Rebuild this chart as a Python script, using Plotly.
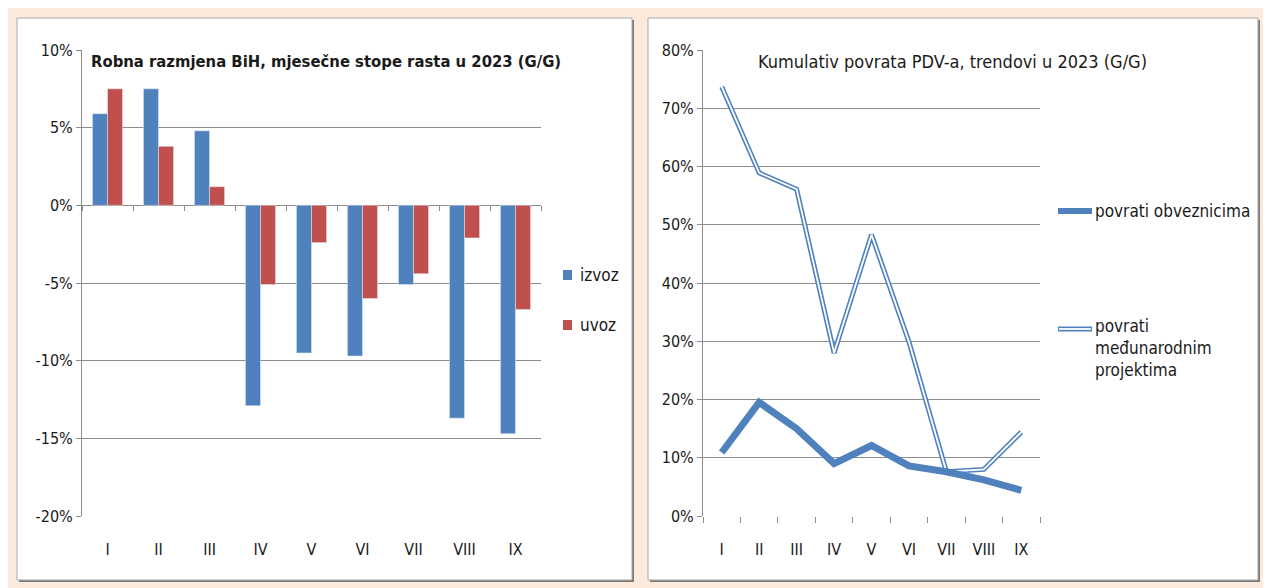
import plotly.graph_objects as go

# ── Data ─────────────────────────────────────────────────────────────────────
MONTHS = ["I", "II", "III", "IV", "V", "VI", "VII", "VIII", "IX"]

# left chart: monthly growth rates (%)
IZVOZ = [5.9, 7.5, 4.8, -12.9, -9.5, -9.7, -5.1, -13.7, -14.7]
UVOZ = [7.5, 3.8, 1.2, -5.1, -2.4, -6.0, -4.4, -2.1, -6.7]

# right chart: VAT refund trends (%)
OBVEZNICI = [10.9, 19.5, 15.0, 9.0, 12.1, 8.6, 7.6, 6.2, 4.4]
PROJEKTI = [73.7, 58.9, 56.1, 28.0, 48.3, 29.9, 7.6, 8.0, 14.4]

LEFT_TICKS = [10, 5, 0, -5, -10, -15, -20]
LEFT_TICK_TEXT = ["10%", "5%", "0%", "-5%", "-10%", "-15%", "-20%"]
RIGHT_TICKS = [0, 10, 20, 30, 40, 50, 60, 70, 80]
RIGHT_TICK_TEXT = ["0%", "10%", "20%", "30%", "40%", "50%", "60%", "70%", "80%"]

LEFT_TITLE = "Robna razmjena BiH, mjesečne stope rasta u 2023 (G/G)"
RIGHT_TITLE = "Kumulativ povrata PDV-a, trendovi u 2023 (G/G)"

# ── Style ────────────────────────────────────────────────────────────────────
W, H = 1271, 588
OFF = 8  # page body margin shifts the figure by this much
BG = "#FCEADC"
BLUE = "#4F81BD"
RED = "#C0504D"
GRID = "#8C8C8C"
TXT = "#1A1A1A"
FONT = "Liberation Sans Narrow, DejaVu Sans Condensed, Arial Narrow, sans-serif"


def px_x(x):
    return (x - OFF) / W


def px_y(y):
    return 1 - (y - OFF) / H


fig = go.Figure()

# ── Left: bars ───────────────────────────────────────────────────────────────
fig.add_trace(go.Bar(x=MONTHS, y=IZVOZ, name="izvoz", marker_color=BLUE,
                     xaxis="x", yaxis="y", showlegend=False))
fig.add_trace(go.Bar(x=MONTHS, y=UVOZ, name="uvoz", marker_color=RED,
                     xaxis="x", yaxis="y", showlegend=False))
# invisible helper so the category axis crossing at 0% gets drawn
fig.add_trace(go.Scatter(x=MONTHS, y=IZVOZ, mode="none", xaxis="x3", yaxis="y",
                         showlegend=False, hoverinfo="skip"))

# ── Right: lines ─────────────────────────────────────────────────────────────
fig.add_trace(go.Scatter(x=MONTHS, y=PROJEKTI, mode="lines",
                         line=dict(color=BLUE, width=5),
                         xaxis="x2", yaxis="y2", showlegend=False))
fig.add_trace(go.Scatter(x=MONTHS, y=PROJEKTI, mode="lines",
                         line=dict(color="white", width=1.8),
                         xaxis="x2", yaxis="y2", showlegend=False))
fig.add_trace(go.Scatter(x=MONTHS, y=OBVEZNICI, mode="lines",
                         line=dict(color=BLUE, width=7),
                         xaxis="x2", yaxis="y2", showlegend=False))

# ── Panels ───────────────────────────────────────────────────────────────────
shapes = []
for x0, x1 in [(17, 632), (648, 1258)]:
    shapes.append(dict(type="rect", xref="paper", yref="paper", layer="below",
                       x0=px_x(x0 + 2), x1=px_x(x1 + 2), y0=px_y(582), y1=px_y(20),
                       fillcolor="#7A7A7A", line=dict(width=0)))
    shapes.append(dict(type="rect", xref="paper", yref="paper", layer="below",
                       x0=px_x(x0), x1=px_x(x1), y0=px_y(580), y1=px_y(18),
                       fillcolor="white", line=dict(color="#A8A8A8", width=1)))

# legend samples (left)
for y, c in [(275, BLUE), (325, RED)]:
    shapes.append(dict(type="rect", xref="paper", yref="paper",
                       x0=px_x(563), x1=px_x(572), y0=px_y(y + 5), y1=px_y(y - 5),
                       fillcolor=c, line=dict(width=0)))
# legend samples (right)
shapes.append(dict(type="line", xref="paper", yref="paper",
                   x0=px_x(1058), x1=px_x(1092), y0=px_y(211), y1=px_y(211),
                   line=dict(color=BLUE, width=6)))
shapes.append(dict(type="line", xref="paper", yref="paper",
                   x0=px_x(1058), x1=px_x(1092), y0=px_y(329), y1=px_y(329),
                   line=dict(color=BLUE, width=5)))
shapes.append(dict(type="line", xref="paper", yref="paper",
                   x0=px_x(1059), x1=px_x(1091), y0=px_y(329), y1=px_y(329),
                   line=dict(color="white", width=1.8)))

annotations = [
    dict(text="<b>" + LEFT_TITLE + "</b>", x=px_x(89), y=px_y(61), xanchor="left",
         yanchor="middle", font=dict(size=16.5, color=TXT, family=FONT)),
    dict(text=RIGHT_TITLE, x=px_x(756), y=px_y(62), xanchor="left",
         yanchor="middle", font=dict(size=18, color=TXT, family=FONT)),
    dict(text="izvoz", x=px_x(578), y=px_y(275), xanchor="left", yanchor="middle",
         font=dict(size=17, color=TXT, family=FONT)),
    dict(text="uvoz", x=px_x(578), y=px_y(325), xanchor="left", yanchor="middle",
         font=dict(size=17, color=TXT, family=FONT)),
    dict(text="povrati obveznicima", x=px_x(1093), y=px_y(211), xanchor="left",
         yanchor="middle", font=dict(size=17, color=TXT, family=FONT)),
    dict(text="povrati<br>međunarodnim<br>projektima", x=px_x(1093), y=px_y(314),
         xanchor="left", yanchor="top", align="left",
         font=dict(size=17, color=TXT, family=FONT)),
]
for a in annotations:
    a.update(xref="paper", yref="paper", showarrow=False)

axis_font = dict(size=16, color=TXT, family=FONT)
y_dom = [px_y(516), px_y(50)]
left_dom = [px_x(82), px_x(541)]
zero_pos = px_y(205)
cat_range = [-0.5, len(MONTHS) - 0.5]

fig.update_layout(
    width=W, height=H,
    paper_bgcolor=BG, plot_bgcolor="rgba(0,0,0,0)",
    margin=dict(l=0, r=0, t=0, b=0, autoexpand=False),
    barmode="group", bargap=0.41, bargroupgap=0,
    shapes=shapes, annotations=annotations,
    xaxis=dict(domain=left_dom, anchor="y", showgrid=False,
               automargin=False,
               ticks="outside", ticklen=19, tickcolor="rgba(0,0,0,0)",
               tickfont=axis_font, showline=False, zeroline=False),
    xaxis3=dict(domain=left_dom, anchor="free", position=zero_pos,
                overlaying="x", automargin=False, showgrid=False,
                categoryorder="array", categoryarray=MONTHS, range=cat_range,
                tickson="boundaries", ticks="outside", ticklen=5, tickcolor=GRID,
                showticklabels=False, showline=False, zeroline=False),
    yaxis=dict(domain=y_dom, anchor="x", range=[-20, 10], automargin=False,
               tickvals=LEFT_TICKS, ticktext=LEFT_TICK_TEXT,
               showgrid=True, gridcolor=GRID, gridwidth=1,
               zeroline=True, zerolinecolor=GRID, zerolinewidth=1,
               showline=True, linecolor=GRID, linewidth=1,
               ticks="outside", ticklen=5, tickcolor=GRID,
               tickfont=axis_font),
    xaxis2=dict(domain=[px_x(703), px_x(1040)], anchor="y2", showgrid=False,
                automargin=False, range=cat_range,
                tickson="boundaries", ticks="outside", ticklen=6, tickcolor=GRID,
                ticklabelstandoff=22,
                tickfont=axis_font, showline=False, zeroline=False),
    yaxis2=dict(domain=y_dom, anchor="x2", range=[0, 80], automargin=False,
                tickvals=RIGHT_TICKS, ticktext=RIGHT_TICK_TEXT,
                showgrid=True, gridcolor=GRID, gridwidth=1,
                zeroline=False,
                showline=True, linecolor=GRID, linewidth=1,
                ticks="outside", ticklen=5, tickcolor=GRID,
                tickfont=axis_font),
)

fig.write_html("out.html")
